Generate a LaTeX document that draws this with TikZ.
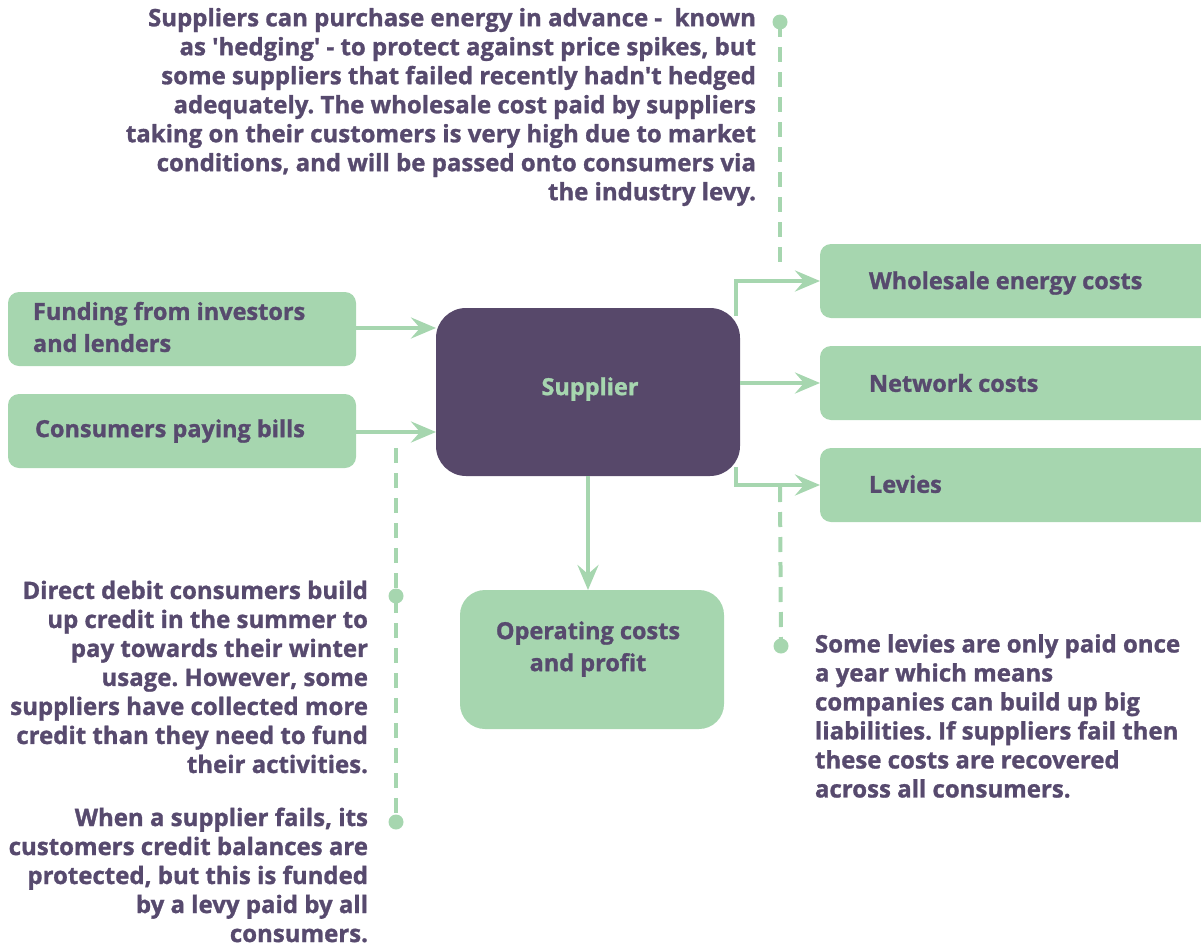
\documentclass[tikz,border=0pt]{standalone}
\usepackage{fontspec}
\setmainfont{Open Sans}[Ligatures=TeXOff, BoldFont={Open Sans Bold}, BoldFeatures={FakeBold=1.2}]
\usetikzlibrary{arrows.meta}
\frenchspacing
\definecolor{grn}{HTML}{A6D6AF}
\definecolor{pur}{HTML}{57486A}
\definecolor{txt}{HTML}{574A6E}
\tikzset{
  x=1bp, y=-1bp,
  every node/.style={inner sep=0pt, outer sep=0pt},
  gbox/.style={fill=grn, rounded corners=11bp, anchor=north west},
  boxtext/.style={text=txt, font=\fontsize{23.5bp}{32bp}\selectfont\bfseries},
  para/.style={text=txt, font=\fontsize{24bp}{29bp}\selectfont\bfseries},
  flow/.style={draw=grn, line width=4bp, -{Stealth[length=25bp,width=21bp,inset=9bp]}},
  dash line/.style={draw=grn, line width=4bp, dash pattern=on 15bp off 10bp},
  dotmark/.style={circle, fill=grn, minimum size=15bp},
}
\begin{document}
\begin{tikzpicture}
\useasboundingbox (0,0) rectangle (1201,946);
% boxes
\node[gbox, minimum width=348bp, minimum height=74bp] (fund) at (8,292) {};
\node[boxtext, anchor=west, align=left] (fundt) at (33,327) {Funding from investors\\and lenders};
\node[gbox, minimum width=348bp, minimum height=74bp] (cons) at (8,394) {};
\node[boxtext, anchor=west] (const) at (35,431) {Consumers paying bills};
\node[gbox, fill=pur, rounded corners=30bp, minimum width=304bp, minimum height=168bp] (sup) at (436,308) {};
\node[boxtext, text=grn] (supt) at (590,389) {Supplier};
\node[gbox, minimum width=400bp, minimum height=74bp] (whole) at (820,244) {};
\node[boxtext, anchor=west] (wholet) at (869,283) {Wholesale energy costs};
\node[gbox, minimum width=400bp, minimum height=74bp] (net) at (820,346) {};
\node[boxtext, anchor=west] (nett) at (869,383) {Network costs};
\node[gbox, minimum width=400bp, minimum height=74bp] (lev) at (820,448) {};
\node[boxtext, anchor=west] (levt) at (869,484) {Levies};
\node[gbox, rounded corners=25bp, minimum width=264bp, minimum height=139bp] (op) at (460,590) {};
\node[boxtext, align=center] (opt) at (588,649) {Operating costs\\and profit};
% paragraphs
\node[para, anchor=east, align=right] (t1) at (756,107) {Suppliers can purchase energy in advance -\ \ known\\as 'hedging' - to protect against price spikes, but\\some suppliers that failed recently hadn't hedged\\adequately. The wholesale cost paid by suppliers\\taking on their customers is very high due to market\\conditions, and will be passed onto consumers via\\the industry levy.};
\node[para, anchor=east, align=right] (t2) at (368,677) {Direct debit consumers build\\up credit in the summer to\\pay towards their winter\\usage. However, some\\suppliers have collected more\\credit than they need to fund\\their activities.};
\node[para, anchor=east, align=right] (t3) at (368,875) {When a supplier fails, its\\customers credit balances are\\protected, but this is funded\\by a levy paid by all\\consumers.};
\node[para, anchor=west, align=left] (t4) at (815,716) {Some levies are only paid once\\a year which means\\companies can build up big\\liabilities. If suppliers fail then\\these costs are recovered\\across all consumers.};
% dots and coordinates
\node[dotmark] (d1) at (780,22) {};
\node[dotmark] (d2) at (781,646) {};
\node[dotmark] (d3) at (396,596) {};
\node[dotmark] (d4) at (396,822) {};
\coordinate (e1) at (780,272);
\coordinate (e2) at (780,487);
\coordinate (e3) at (396,448);
% arrows
\draw[flow] (fund.east |- 0,328) -- (sup.west |- 0,328);
\draw[flow] (cons.east |- 0,432) -- (sup.west |- 0,432);
\draw[flow] (sup.east |- 0,383) -- (net.west |- 0,383);
\draw[flow] (736,316) |- (whole.west);
\draw[flow] (736,467) |- (lev.west);
\draw[flow] (sup.south -| 588,0) -- (op.north -| 588,0) ;
% dashed
\draw[dash line] (d1.center) -- (e1);
\draw[dash line] (e2) -- (d2.center);
\draw[dash line] (e3) -- (d4.center);
\end{tikzpicture}
\end{document}
